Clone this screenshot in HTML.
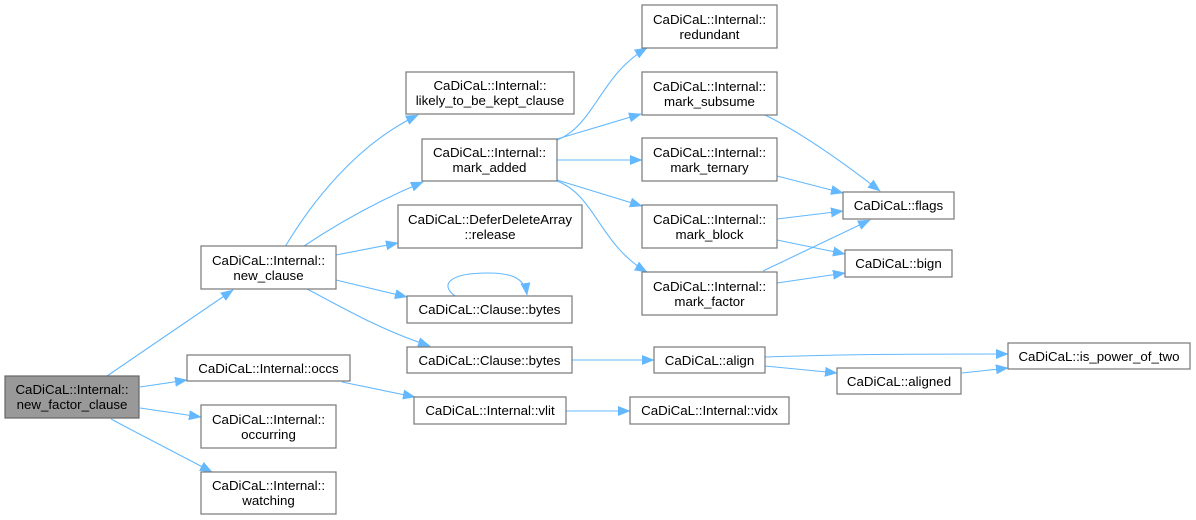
<!DOCTYPE html>
<html><head><meta charset="utf-8">
<style>
html,body{margin:0;padding:0;background:#fff;}
svg{display:block;}
text{font-family:"Liberation Sans",Arial,sans-serif;font-size:13.3px;fill:#000;text-anchor:middle;}
.n{fill:#fff;stroke:#777;stroke-width:1.2;}
.e{fill:none;stroke:#63b8ff;stroke-width:1.1;}
</style></head><body>
<svg width="1196" height="520" viewBox="0 0 1196 520" xmlns="http://www.w3.org/2000/svg">
<defs>
<marker id="a" markerUnits="userSpaceOnUse" markerWidth="13" markerHeight="10" refX="12" refY="5" orient="auto">
<path d="M0,0.3 L12,5 L0,9.7 z" fill="#63b8ff" stroke="#63b8ff" stroke-width="0.5"/>
</marker>
</defs>

<!-- edges -->
<g class="e" marker-end="url(#a)">
<path d="M107,376 L233,290"/>
<path d="M140,387 L187,380"/>
<path d="M140,408 L201,417"/>
<path d="M111,419 C135,432 180,455 212,472"/>
<path d="M285,247 C310,205 355,145 418,115"/>
<path d="M304,246 C340,222 380,200 423,182"/>
<path d="M336,255 L398,243"/>
<path d="M336,280 L407,297"/>
<path d="M307,289 C340,306 380,330 430,346"/>
<path d="M342,382 L415,397"/>
<path d="M572,360 L654,360"/>
<path d="M566,411 L630,411"/>
<path d="M765,357 C850,354 930,354 1008,354"/>
<path d="M765,366 L837,373"/>
<path d="M962,373 L1008,368"/>
<path d="M557,140 C595,125 600,75 647,48"/>
<path d="M557,139 L641,114"/>
<path d="M557,160 L642,160"/>
<path d="M557,180 L642,206"/>
<path d="M557,181 C595,195 600,245 647,272"/>
<path d="M765,115 C800,132 840,160 880,191"/>
<path d="M777,176 L843,193"/>
<path d="M777,219 L843,211"/>
<path d="M777,240 L845,254"/>
<path d="M763,271 L870,220"/>
<path d="M777,283 L845,273"/>
<path d="M455,296 C440,285 448,273 488,273 C515,273 525,280 527,295"/>
</g>

<!-- nodes -->
<rect x="5" y="376" width="134" height="42" fill="#999" stroke="#666" stroke-width="1.2"/>
<text x="72" y="394">CaDiCaL::Internal::</text><text x="72" y="409">new_factor_clause</text>

<rect class="n" x="201" y="246" width="135" height="43"/>
<text x="268.5" y="265">CaDiCaL::Internal::</text><text x="268.5" y="280">new_clause</text>

<rect class="n" x="187" y="355" width="163" height="26"/>
<text x="268.5" y="373">CaDiCaL::Internal::occs</text>

<rect class="n" x="201" y="405" width="135" height="43"/>
<text x="268.5" y="424">CaDiCaL::Internal::</text><text x="268.5" y="439">occurring</text>

<rect class="n" x="201" y="472" width="135" height="42"/>
<text x="268.5" y="490">CaDiCaL::Internal::</text><text x="268.5" y="505">watching</text>

<rect class="n" x="406" y="72" width="168" height="42"/>
<text x="490" y="90">CaDiCaL::Internal::</text><text x="490" y="105">likely_to_be_kept_clause</text>

<rect class="n" x="422" y="139" width="135" height="42"/>
<text x="489.5" y="157">CaDiCaL::Internal::</text><text x="489.5" y="172">mark_added</text>

<rect class="n" x="398" y="205" width="184" height="43"/>
<text x="490" y="224">CaDiCaL::DeferDeleteArray</text><text x="490" y="239">::release</text>

<rect class="n" x="407" y="296" width="165" height="27"/>
<text x="489.5" y="314">CaDiCaL::Clause::bytes</text>

<rect class="n" x="407" y="347" width="165" height="26"/>
<text x="489.5" y="365">CaDiCaL::Clause::bytes</text>

<rect class="n" x="414" y="397" width="152" height="27"/>
<text x="490" y="415">CaDiCaL::Internal::vlit</text>

<rect class="n" x="642" y="5" width="135" height="43"/>
<text x="709.5" y="24">CaDiCaL::Internal::</text><text x="709.5" y="39">redundant</text>

<rect class="n" x="642" y="72" width="135" height="43"/>
<text x="709.5" y="91">CaDiCaL::Internal::</text><text x="709.5" y="106">mark_subsume</text>

<rect class="n" x="642" y="138" width="135" height="43"/>
<text x="709.5" y="157">CaDiCaL::Internal::</text><text x="709.5" y="172">mark_ternary</text>

<rect class="n" x="642" y="205" width="135" height="43"/>
<text x="709.5" y="224">CaDiCaL::Internal::</text><text x="709.5" y="239">mark_block</text>

<rect class="n" x="642" y="272" width="135" height="43"/>
<text x="709.5" y="291">CaDiCaL::Internal::</text><text x="709.5" y="306">mark_factor</text>

<rect class="n" x="843" y="192" width="111" height="27"/>
<text x="898.5" y="210">CaDiCaL::flags</text>

<rect class="n" x="845" y="250" width="107" height="27"/>
<text x="898.5" y="268">CaDiCaL::bign</text>

<rect class="n" x="654" y="347" width="111" height="26"/>
<text x="709.5" y="365">CaDiCaL::align</text>

<rect class="n" x="630" y="397" width="159" height="27"/>
<text x="709.5" y="415">CaDiCaL::Internal::vidx</text>

<rect class="n" x="837" y="368" width="124" height="26"/>
<text x="899" y="386">CaDiCaL::aligned</text>

<rect class="n" x="1008" y="343" width="182" height="26"/>
<text x="1099" y="361">CaDiCaL::is_power_of_two</text>
</svg>
</body></html>
